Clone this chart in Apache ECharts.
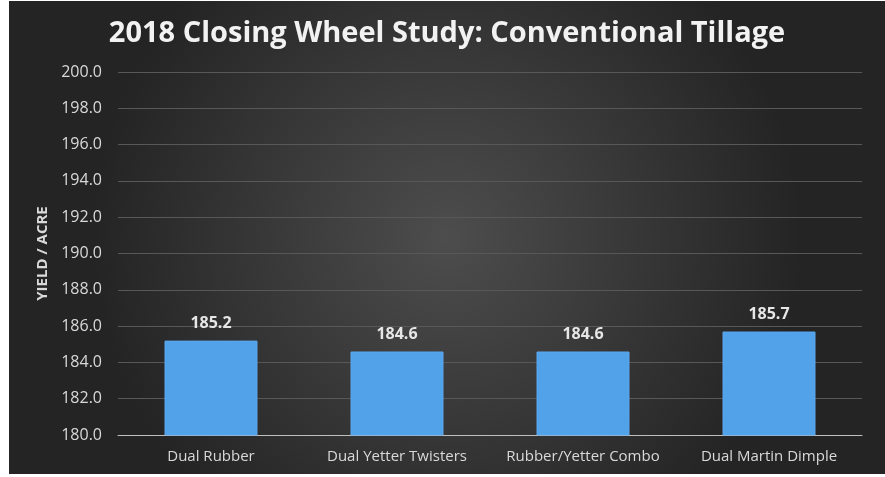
<!DOCTYPE html>
<html>
<head>
<meta charset="utf-8">
<script src="https://cdn.jsdelivr.net/npm/echarts@6/dist/echarts.min.js"></script>
<style>
  html, body { margin: 0; padding: 0; background: #fff; }
  #chart { position: absolute; left: 9px; top: 1px; width: 876px; height: 473px; }
</style>
</head>
<body>
<div id="chart"></div>
<script>
const categories = ["Dual Rubber", "Dual Yetter Twisters", "Rubber/Yetter Combo", "Dual Martin Dimple"];
const yields = [185.2, 184.6, 184.6, 185.7];
const yMin = 180;
const yMax = 200;
const yStep = 2;

const myChart = echarts.init(document.getElementById("chart"));
myChart.setOption({
  backgroundColor: {
    type: "radial",
    x: 0.5,
    y: 0.5,
    r: 0.75,
    colorStops: [
      { offset: 0, color: "#4d4d4d" },
      { offset: 1, color: "#242424" },
    ],
  },
  title: {
    text: "2018 Closing Wheel Study: Conventional Tillage",
    left: "center",
    top: 13,
    textStyle: {
      color: "#f2f2f2",
      fontFamily: "Open Sans",
      fontWeight: "bold",
      fontSize: 29,
    },
  },
  grid: {
    left: 109,
    right: 23,
    top: 71,
    bottom: 39,
  },
  xAxis: {
    type: "category",
    data: categories,
    axisLine: { lineStyle: { color: "#bfbfbf", width: 1 } },
    axisTick: { show: false },
    axisLabel: {
      interval: 0,
      hideOverlap: false,
      color: "#d9d9d9",
      fontFamily: "Open Sans",
      fontSize: 15,
      margin: 14,
    },
  },
  yAxis: {
    type: "value",
    min: yMin,
    max: yMax,
    interval: yStep,
    name: "YIELD / ACRE",
    nameLocation: "middle",
    nameGap: 68,
    nameTextStyle: {
      color: "#d9d9d9",
      fontFamily: "Open Sans",
      fontWeight: "bold",
      fontSize: 15,
    },
    axisLine: { show: false },
    axisTick: { show: false },
    axisLabel: {
      color: "#d9d9d9",
      fontFamily: "Open Sans",
      fontSize: 16,
      margin: 16,
      formatter: (v) => v.toFixed(1),
    },
    splitLine: { lineStyle: { color: "#585858", width: 1 } },
  },
  series: [
    {
      type: "bar",
      data: yields,
      barWidth: "50%",
      itemStyle: {
        color: "#52a2ea",
        borderColor: "#5aa8ee",
        borderWidth: 1,
      },
      label: {
        show: true,
        position: "top",
        distance: 9,
        color: "#e6e6e6",
        fontFamily: "Open Sans",
        fontWeight: "bold",
        fontSize: 16,
        formatter: (p) => p.value.toFixed(1),
      },
    },
  ],
});
</script>
</body>
</html>
